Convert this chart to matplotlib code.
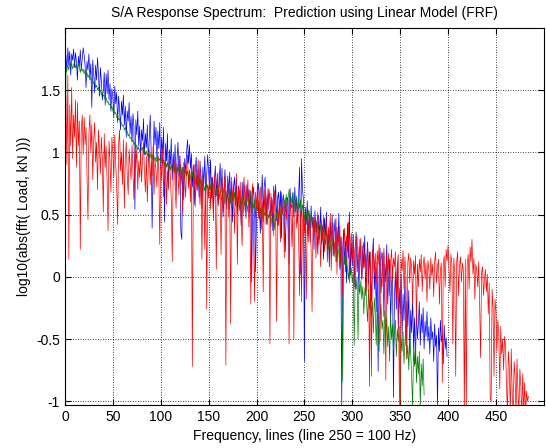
import matplotlib
matplotlib.use('Agg')
import matplotlib.pyplot as plt
import numpy as np

# measured response, log10 magnitude per line (blue)
blue_vals = [
    1.52, 1.78, 1.65, 1.84, 1.70, 1.81, 1.62, 1.79, 1.74, 1.83,
    1.68, 1.80, 1.72, 1.58, 1.77, 1.69, 1.82, 1.66, 1.75, 1.84,
    1.78, 1.70, 1.52, 1.73, 1.66, 1.79, 1.60, 1.71, 1.36, 1.74,
    1.63, 1.48, 1.70, 1.58, 1.76, 1.62, 1.45, 1.68, 1.57, 1.42,
    1.50, 1.64, 1.38, 1.63, 1.47, 1.66, 1.42, 1.55, 1.33, 1.51,
    1.44, 1.28, 1.53, 1.39, 1.48, 1.24, 1.45, 1.35, 1.18, 1.41,
    1.30, 1.46, 1.22, 1.37, 1.12, 1.33, 1.25, 1.40, 1.15, 1.29,
    1.08, 1.31, 1.20, 0.54, 1.26, 1.14, 1.33, 1.05, 1.21, 0.96,
    1.18, 1.09, 1.27, 0.98, 1.15, 1.04, 1.22, 0.92, 1.12, 1.30,
    1.01, 0.39, 0.88, 1.25, 1.06, 1.20, 0.95, 1.17, 1.03, 1.24,
    0.86, 1.12, 0.98, 1.20, 0.44, 1.07, 0.93, 1.15, 0.72, 1.02,
    0.90, 1.11, 0.78, 0.99, 0.85, 1.06, 0.69, 0.94, 1.08, 0.80,
    0.97, 0.36, 0.30, 0.88, 0.62, 0.95, 0.83, 1.01, 1.10, 0.91,
    1.06, 0.87, 0.99, 0.72, 0.90, 0.58, 0.84, 0.96, 0.70, 0.86,
    0.64, 0.93, 0.79, 0.55, 0.88, 0.74, 0.97, 0.66, 0.82, 0.98,
    0.85, 0.71, 0.94, 0.63, 0.80, 0.52, 0.77, 0.89, 0.65, 0.83,
    0.57, 0.75, 0.91, 0.68, 0.87, 0.48, 0.62, 0.86, 0.70, 0.54,
    0.81, 0.66, 0.84, 0.59, 0.76, 0.44, 0.72, 0.80, 0.61, 0.78,
    0.50, 0.73, 0.69, 0.64, 0.41, 0.76, 0.58, 0.74, 0.67, 0.47,
    0.74, 0.60, 0.70, 0.55, 0.69, -0.04, 0.65, 0.72, 0.52, 0.04,
    0.46, 0.68, 0.75, 0.57, 0.35, 0.63, 0.82, 0.50, 0.72, 0.80,
    0.42, 0.66, 0.54, 0.70, 0.61, 0.48, 0.64, 0.37, 0.73, 0.58,
    0.74, 0.45, 0.62, 0.68, 0.53, 0.69, 0.31, 0.60, 0.66, 0.56,
    0.20, 0.49, 0.64, 0.61, 0.10, 0.71, 0.58, 0.55, 0.67, 0.48,
    0.72, 0.52, 0.63, 0.43, 0.66, 0.88, 0.02, 0.95, 0.70, 0.62,
    -0.68, 0.55, 0.42, 0.61, 0.33, 0.50, 0.28, 0.57, 0.39, 0.48,
    0.22, 0.53, 0.36, 0.45, 0.18, 0.49, 0.31, 0.56, 0.26, 0.41,
    0.14, 0.47, 0.33, 0.52, 0.20, 0.38, 0.08, 0.44, 0.29, 0.50,
    0.17, 0.35, 0.46, 0.12, 0.40, 0.24, 0.51, 0.06, 0.32, -1.05,
    0.21, 0.38, 0.10, 0.29, -0.05, 0.43, 0.15, 0.52, 0.02, 0.27,
    0.09, 0.34, -0.08, 0.22, 0.36, 0.04, 0.18, -0.12, 0.30, 0.11,
    -0.02, 0.25, 0.07, 0.33, -0.15, 0.14, 0.28, -0.06, 0.20, 0.01,
    -0.20, 0.16, 0.31, -0.10, 0.08, -0.28, 0.12, -0.76, 0.05, 0.23,
    -0.13, 0.03, 0.19, -0.32, 0.10, -0.04, 0.26, -0.22, 0.00, 0.14,
    -0.37, -0.07, 0.09, -0.97, -0.18, 0.04, -0.26, 0.11, -0.42, -0.09,
    -0.30, 0.02, -0.48, -0.14, -0.35, -0.01, -0.55, -0.20, -0.40, -0.11,
    -0.62, -0.27, -0.45, -0.16, -0.58, -0.33, -0.70, -0.24, -0.50, -0.38,
    -0.20, -0.55, -0.30, -0.45, -0.25, -0.58, -0.36, -0.48, -0.28, -0.52,
    -0.40, -0.62, -0.33, -0.50, -0.44, -0.68, -0.38, -0.56, -0.47, -1.05,
    -0.41, -0.60, -0.35, -0.52, -0.46, -0.70, -0.39, -0.58, -0.49, -0.64,
]

# linear model (FRF) prediction (green)
green_vals = [
    0.20, 1.62, 1.68, 1.70, 1.66, 1.72, 1.69, 1.71, 1.67, 1.70,
    1.73, 1.68, 1.70, 1.66, 1.71, 1.69, 1.64, 1.68, 1.65, 1.67,
    1.63, 1.66, 1.61, 1.64, 1.60, 1.62, 1.58, 1.60, 1.56, 1.57,
    1.55, 1.57, 1.52, 1.54, 1.50, 1.52, 1.49, 1.50, 1.46, 1.48,
    1.45, 1.46, 1.42, 1.44, 1.40, 1.41, 1.38, 1.39, 1.35, 1.37,
    1.33, 1.35, 1.31, 1.32, 1.28, 1.30, 1.26, 1.27, 1.23, 1.24,
    1.21, 1.22, 1.18, 1.20, 1.16, 1.17, 1.13, 1.15, 1.11, 1.12,
    1.09, 1.10, 1.06, 1.08, 1.04, 1.06, 1.02, 1.04, 1.00, 1.01,
    1.02, 1.04, 0.99, 1.03, 0.98, 1.01, 0.97, 1.00, 0.96, 0.99,
    0.95, 0.98, 0.94, 0.97, 0.93, 0.96, 0.92, 0.97, 0.93, 0.95,
    0.92, 0.96, 0.90, 0.94, 0.89, 0.93, 0.88, 0.92, 0.87, 0.91,
    0.86, 0.90, 0.85, 0.89, 0.84, 0.90, 0.83, 0.88, 0.85, 0.87,
    0.82, 0.90, 0.80, 0.88, 0.84, 0.79, 0.87, 0.81, 0.85, 0.78,
    0.86, 0.80, 0.76, 0.84, 0.79, 0.82, 0.74, 0.81, 0.77, 0.72,
    0.80, 0.75, 0.78, 0.70, 0.77, 0.73, 0.69, 0.76, 0.71, 0.74,
    0.68, 0.75, 0.70, 0.80, 0.66, 0.72, 0.78, 0.64, 0.71, 0.67,
    0.74, 0.62, 0.70, 0.65, 0.60, 0.72, 0.66, 0.58, 0.69, 0.63,
    0.67, 0.59, 0.71, 0.62, 0.55, 0.66, 0.61, 0.68, 0.57, 0.64,
    0.60, 0.66, 0.53, 0.62, 0.58, 0.65, 0.50, 0.61, 0.56, 0.63,
    0.59, 0.52, 0.64, 0.57, 0.68, 0.51, 0.60, 0.55, 0.62, 0.48,
    0.57, 0.53, 0.61, 0.46, 0.55, 0.50, 0.58, 0.44, 0.52, 0.49,
    0.55, 0.42, 0.50, 0.47, 0.53, 0.40, 0.48, 0.44, 0.51, 0.38,
    0.46, 0.52, 0.41, 0.49, 0.56, 0.45, 0.60, 0.50, 0.58, 0.62,
    0.54, 0.66, 0.57, 0.63, 0.70, 0.55, 0.64, 0.59, 0.68, 0.52,
    0.61, 0.57, 0.65, 0.50, 0.60, 0.55, 0.62, 0.48, 0.58, 0.53,
    0.45, 0.56, 0.50, 0.42, 0.54, 0.47, 0.39, 0.51, 0.44, 0.48,
    0.37, 0.46, 0.41, 0.35, 0.44, 0.38, 0.31, 0.42, 0.36, 0.29,
    0.39, 0.33, 0.26, 0.37, 0.30, 0.22, 0.34, 0.27, 0.19, 0.31,
    0.24, 0.16, 0.28, 0.20, 0.12, 0.25, 0.18, 0.08, 0.21, 0.14,
    -0.84, 0.10, 0.17, 0.04, 0.13, 0.06, -0.02, 0.09, 0.01, 0.07,
    -0.05, 0.03, -0.55, -0.02, -0.10, 0.00, -0.50, -0.06, -0.14, -0.03,
    -0.18, -0.08, -0.30, -0.12, -0.04, -0.22, -0.36, -0.10, -0.26, -0.15,
    -0.32, -0.20, -0.45, -0.17, -0.28, -0.55, -0.24, -0.38, -0.60, -0.30,
    -0.22, -0.42, -0.35, -0.62, -0.27, -0.48, -0.33, -0.56, -0.40, -0.68,
    -0.30, -0.50, -0.38, -0.58, -0.45, -0.35, -0.64, -0.42, -0.52, -0.40,
    -1.05, -0.48, -0.60, -0.44, -0.70, -0.52, -0.38, -0.66, -0.55, -0.75,
    -0.46, -0.62, -0.80, -1.05, -0.58, -0.72, -0.50, -0.85, -0.64, -0.78,
    -0.60, -1.05, -0.70, -0.88, -0.66, -0.95,
]

# S/A response (red)
red_vals = [
    0.50, 1.45, 0.90, 1.62, 0.14, 1.38, 1.05, 1.52, 0.95, 1.30,
    1.12, 1.42, 0.88, 1.40, 1.05, 1.25, 0.22, 1.18, 1.30, 0.98,
    1.28, 1.06, 1.20, 0.85, 0.46, 1.15, 1.30, 1.00, 1.22, 0.78,
    1.10, 1.24, 0.92, 1.08, 0.70, 1.18, 1.02, 0.83, 1.12, 0.95,
    0.52, 1.15, 0.88, 1.05, 0.76, 0.37, 1.09, 0.93, 0.68, 1.12,
    0.98, 0.80, 1.14, 0.90, 0.72, 0.42, 1.06, 1.18, 0.85, 1.00,
    0.74, 1.10, 0.55, 0.96, 1.08, 0.82, 0.66, 1.02, 0.90, 0.78,
    1.06, 0.85, 0.62, 0.98, 0.88, 1.04, 0.70, 0.93, 0.80, 1.00,
    0.76, 0.95, 1.08, 0.84, 0.68, 0.97, 0.60, 0.89, 1.02, 0.74,
    0.92, 0.81, 1.05, 0.66, 0.94, 0.86, 0.72, 1.00, 0.83, 0.26,
    0.90, 0.77, 1.04, 0.64, 0.88, 0.96, 0.58, 0.85, 0.70, 0.99,
    0.80, 0.62, 0.12, 0.87, 0.94, 0.73, 0.55, 0.91, 0.82, 0.66,
    0.97, 0.74, 0.86, 0.50, 0.92, 0.79, 0.64, 0.88, 0.98, 0.71,
    0.84, 0.60, 0.93, -0.72, 0.78, 0.90, 0.56, 0.82, 0.69, 0.94,
    0.75, 0.58, 0.86, 0.14, 0.80, 0.68, 0.22, 0.84, -0.26, 0.72,
    0.63, 0.87, 0.54, 0.78, 0.70, 0.45, 0.82, 0.66, 0.06, 0.76,
    0.59, 0.84, 0.71, 0.18, 0.79, 0.52, 0.68, 0.81, -0.71, 0.64,
    0.77, 0.48, 0.70, -0.38, 0.80, 0.61, 0.74, 0.35, 0.67, 0.83,
    0.10, 0.72, 0.58, 0.76, 0.44, 0.25, 0.69, 0.80, 0.53, 0.73,
    0.62, 0.78, 0.40, 0.70, -0.22, 0.65, 0.75, 0.30, -0.20, 0.68,
    0.55, 0.76, 0.47, 0.66, 0.72, 0.38, 0.60, -0.12, 0.70, 0.52,
    0.64, 0.43, 0.71, 0.58, -0.54, 0.67, 0.49, 0.62, 0.33, 0.69,
    0.56, -0.36, 0.65, 0.41, 0.60, 0.28, 0.68, 0.50, 0.57, 0.15,
    0.63, 0.46, 0.59, 0.36, -0.54, 0.61, 0.52, 0.24, 0.58, -0.50,
    0.48, 0.62, 0.39, 0.55, 0.30, -0.15, 0.53, -0.20, 0.44, 0.57,
    0.35, 0.50, -0.18, 0.46, 0.28, 0.53, 0.40, 0.22, -0.28, 0.48,
    0.33, 0.47, 0.15, 0.42, 0.52, 0.26, 0.38, 0.08, 0.45, 0.30,
    0.49, 0.20, 0.36, 0.44, 0.12, 0.40, 0.27, 0.51, 0.05, 0.34,
    0.43, 0.18, 0.30, 0.47, 0.02, 0.37, 0.25, 0.41, 0.10, 0.32,
    -0.15, 0.28, 0.39, 0.06, 0.33, 0.20, 0.44, -0.05, 0.26, 0.35,
    0.12, 0.30, 0.21, -0.10, 0.27, 0.33, 0.04, 0.24, 0.16, 0.31,
    -0.02, 0.22, 0.28, 0.08, 0.18, -0.12, 0.25, 0.11, -0.88, 0.20,
    -0.80, 0.16, 0.24, 0.03, 0.19, -0.06, 0.21, 0.10, 0.26, -0.52,
    0.14, 0.20, -0.08, 0.23, 0.07, -0.83, 0.17, 0.02, 0.19, -0.15,
    0.12, 0.22, -0.03, 0.15, 0.08, 0.20, -0.18, 0.10, 0.18, -0.85,
    -1.10, 0.14, 0.05, 0.21, -0.10, 0.16, 0.01, -0.66, 0.12, 0.19,
    -0.05, 0.15, 0.08, -0.22, 0.13, 0.02, 0.17, -0.40, 0.10, -0.08,
    0.14, 0.04, 0.18, -0.12, 0.09, 0.16, -0.02, 0.11, -0.20, 0.13,
    0.06, -0.10, 0.15, 0.01, 0.10, -0.16, 0.12, 0.20, -0.05, 0.08,
    0.14, -0.22, 0.05, 0.11, -0.85, 0.09, 0.17, -0.08, 0.22, 0.13,
    0.25, 0.06, -0.12, 0.18, 0.10, -0.54, 0.15, 0.03, -0.80, 0.12,
    0.20, -0.15, 0.08, 0.16, -0.04, 0.11, 0.05, -1.10, 0.14, -1.10,
    0.09, 0.18, -0.10, 0.24, 0.12, 0.30, 0.02, 0.15, -0.18, 0.10,
    0.05, -0.08, 0.12, -0.22, -0.65, 0.03, 0.08, -0.15, -0.02, 0.06,
    -0.12, 0.02, -0.30, -0.05, -0.98, -1.00, -0.10, -0.25, -0.80, -0.18,
    -0.28, -0.60, -0.35, -0.45, -0.90, -0.40, -0.62, -0.50, -0.75, -0.48,
    -0.55, -0.85, -1.10, -0.60, -0.72, -1.10, -0.58, -0.95, -1.10, -0.68,
    -0.80, -1.10, -0.66, -0.92, -1.10, -0.74, -0.88, -1.10, -0.78, -1.10,
    -0.85, -1.10, -0.92, -1.00, -0.96,
]

x_ticks = [0, 50, 100, 150, 200, 250, 300, 350, 400, 450]
y_ticks = [-1, -0.5, 0, 0.5, 1, 1.5]
y_tick_labels = ['-1', '-0.5', '0', '0.5', '1', '1.5']

plt.rcParams['font.family'] = ['Liberation Sans', 'DejaVu Sans']
plt.rcParams['font.size'] = 10

fig = plt.figure(figsize=(5.46, 4.48), dpi=100)
ax = fig.add_axes([0.119, 0.096, 0.877, 0.842])

lw = 0.5
ax.plot(np.arange(len(blue_vals)), blue_vals, color='#0000ff', lw=lw)
ax.plot(np.arange(len(green_vals)), green_vals, color='#008000', lw=lw)
ax.plot(np.arange(len(red_vals)), red_vals, color='#ff0000', lw=lw)

ax.set_xlim(0, 500)
ax.set_ylim(-1.03, 2.0)
ax.set_xticks(x_ticks)
ax.set_yticks(y_ticks)
ax.set_yticklabels(y_tick_labels)
ax.grid(True, color='black', linestyle=(0, (1, 2)), linewidth=0.6)
ax.tick_params(direction='in', top=True, right=True, length=4, labelsize=10)
for s in ax.spines.values():
    s.set_linewidth(0.8)

ax.set_title('S/A Response Spectrum:  Prediction using Linear Model (FRF)', fontsize=10, pad=8)
ax.set_xlabel('Frequency, lines (line 250 = 100 Hz)', fontsize=10)
ax.set_ylabel('log10(abs(fft( Load, kN )))', fontsize=10)

fig.savefig('out.png', dpi=100)
